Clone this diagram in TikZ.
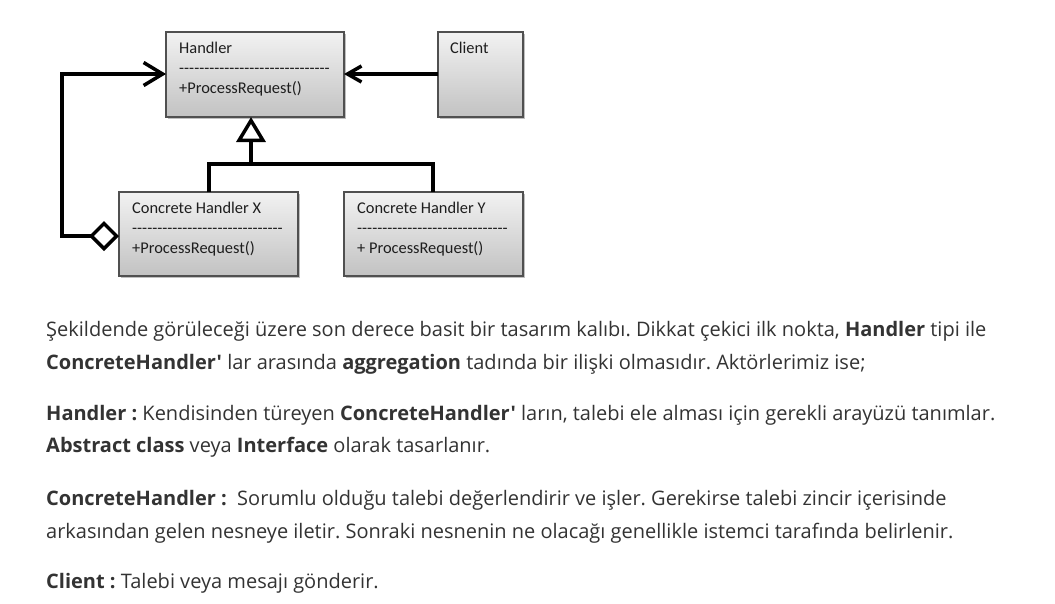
\documentclass[tikz,border=0pt]{standalone}
\usepackage{fontspec}
\setmainfont{Open Sans}[Ligatures=TeXOff]
\newfontfamily\umlfont{Carlito}
\usetikzlibrary{arrows.meta,shadows}
\definecolor{bodytext}{HTML}{333333}
\definecolor{umltxt}{HTML}{1E1E1E}
\definecolor{boxborder}{HTML}{505050}
\definecolor{boxtop}{HTML}{F2F2F2}
\definecolor{boxbot}{HTML}{C2C2C2}
\frenchspacing
\begin{document}
\begin{tikzpicture}[x=1pt,y=-1pt,
  cls/.style={draw=boxborder, line width=1.2pt, top color=boxtop, bottom color=boxbot,
    drop shadow={shadow xshift=2pt, shadow yshift=-2pt, fill=black!50, opacity=0.5},
    inner sep=0pt, outer sep=0pt},
  uml/.style={anchor=base west, inner sep=0pt, text=umltxt,
    font=\umlfont\fontsize{16.4}{19}\selectfont},
  conn/.style={line width=3.5pt, draw=black},
  body/.style={anchor=base west, inner sep=0pt, text=bodytext,
    font=\fontsize{20}{23}\selectfont}]
\useasboundingbox (0,0) rectangle (1055,603);
\fill[white] (0,0) rectangle (1055,603);

% class boxes
\node[cls, minimum width=178pt, minimum height=85pt] (handler) at (255,74.5) {};
\node[cls, minimum width=85pt, minimum height=85pt] (client) at (480.5,74.5) {};
\node[cls, minimum width=179pt, minimum height=84pt] (cx) at (208.5,234) {};
\node[cls, minimum width=179pt, minimum height=84pt] (cy) at (433.5,234) {};

% box texts
\node[uml] (hT) at (179,53) {Handler};
\node[uml] (hD) at (179,73) {------------------------------};
\node[uml] (hM) at (179,93) {+ProcessRequest()};
\node[uml] (cT) at (450,53) {Client};
\node[uml] (xT) at (132,213) {Concrete Handler X};
\node[uml] (xD) at (132,233) {------------------------------};
\node[uml] (xM) at (132,253) {+ProcessRequest()};
\node[uml] (yT) at (357,213) {Concrete Handler Y};
\node[uml] (yD) at (357,233) {------------------------------};
\node[uml] (yM) at (357,253) {+ ProcessRequest()};

% connectors
\coordinate (arow) at (0,74);
\coordinate (aggrow) at (0,236);
\coordinate (aggL) at (62,236);
\coordinate (aggT) at (62,74);
\draw[conn, -{Straight Barb[length=14pt,width=16pt]}] (client.west |- arow) -- (handler.east |- arow);
\draw[conn, {Diamond[open,fill=white,length=30pt,width=30pt]}-{Straight Barb[length=19pt,width=23pt]}]
  (cx.west |- aggrow) -- (aggL) -- (aggT) -- (handler.west |- arow);
\coordinate (junc) at (251,164);
\coordinate (xi) at (209,164);
\coordinate (yi) at (433,164);
\draw[conn] (xi |- cx.north) -- (xi) -- (yi) -- (yi |- cy.north);
\draw[conn, -{Triangle[open,fill=white,length=25pt,width=29pt]}] (junc) -- (junc |- handler.south);

% body text
\node[body] (t1) at (46,336) {Şekildende görüleceği üzere son derece basit bir tasarım kalıbı. Dikkat çekici ilk nokta, \textbf{Handler} tipi ile};
\node[body] (t2) at (46,369) {\textbf{ConcreteHandler'} lar arasında \textbf{aggregation} tadında bir ilişki olmasıdır. Aktörlerimiz ise;};
\node[body] (t3) at (46,420) {\textbf{Handler :} Kendisinden türeyen \textbf{ConcreteHandler'} ların, talebi ele alması için gerekli arayüzü tanımlar.};
\node[body] (t4) at (46,452) {\textbf{Abstract class} veya \textbf{Interface} olarak tasarlanır.};
\node[body] (t5) at (46,505) {\textbf{ConcreteHandler :}\ \ Sorumlu olduğu talebi değerlendirir ve işler. Gerekirse talebi zincir içerisinde};
\node[body] (t6) at (46,538) {arkasından gelen nesneye iletir. Sonraki nesnenin ne olacağı genellikle istemci tarafında belirlenir.};
\node[body] (t7) at (46,588) {\textbf{Client :} Talebi veya mesajı gönderir.};
\end{tikzpicture}
\end{document}
